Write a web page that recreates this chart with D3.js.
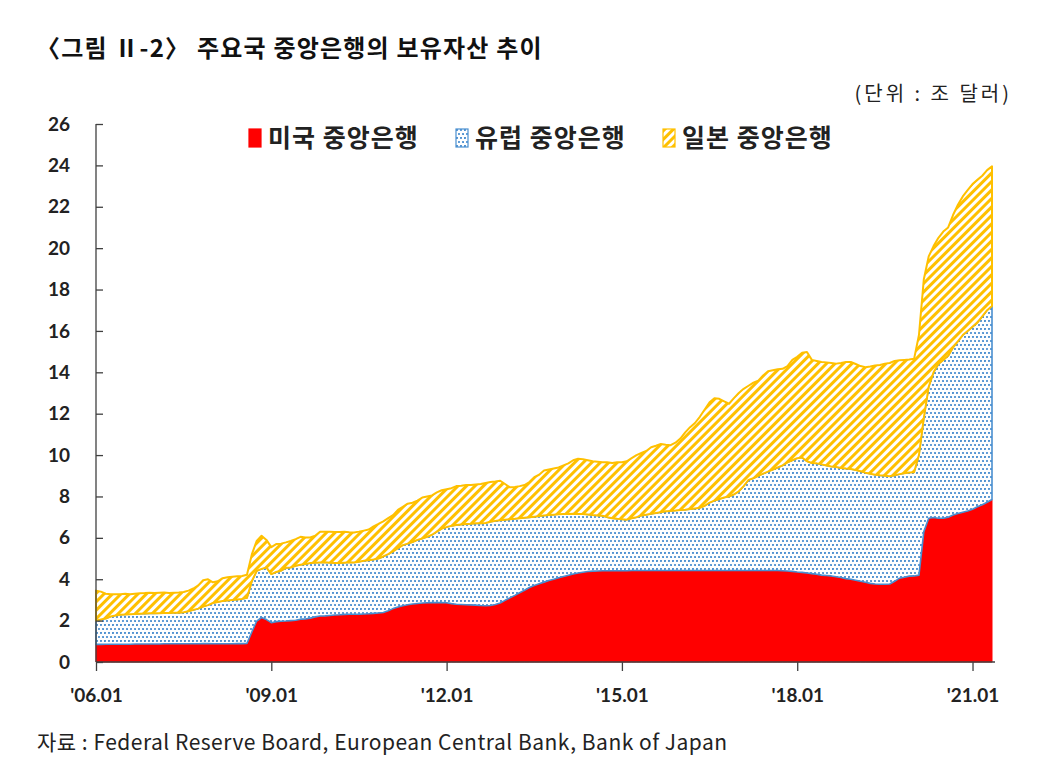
<!DOCTYPE html>
<html>
<head>
<meta charset="utf-8">
<script src="https://cdn.jsdelivr.net/npm/d3@7"></script>
<style>
    body { margin: 0; background: #fff; }
    svg { display: block; }
    .axis path, .axis line { stroke: #404040; stroke-width: 1.3px; }
    .axis text { font-family: Lato, "Noto Sans", sans-serif; font-weight: 700; font-size: 19px; fill: #222; }
</style>
</head>
<body>
<div id="chart"></div>
<script>
    'use strict';

    // monthly values, '06.01 ~ '21.05 (trillion dollars)
    var startYear = 2006;
    var seriesNames = ['미국 중앙은행', '유럽 중앙은행', '일본 중앙은행'];
    var xTickLabels = ["'06.01", "'09.01", "'12.01", "'15.01", "'18.01", "'21.01"];
    var yTicks = [0, 2, 4, 6, 8, 10, 12, 14, 16, 18, 20, 22, 24, 26];

    var usValues = [
        0.85, 0.85, 0.86, 0.86, 0.86, 0.86, 0.86, 0.86, 0.87, 0.87, 0.87, 0.87,
        0.87, 0.87, 0.88, 0.88, 0.88, 0.88, 0.88, 0.88, 0.88, 0.88, 0.89, 0.89,
        0.88, 0.88, 0.88, 0.88, 0.88, 0.89, 0.89, 0.90, 1.45, 1.98, 2.15, 2.05,
        1.90, 1.95, 1.97, 1.98, 2.00, 2.02, 2.07, 2.08, 2.12, 2.18, 2.22, 2.23,
        2.25, 2.27, 2.28, 2.30, 2.31, 2.31, 2.31, 2.32, 2.33, 2.35, 2.37, 2.39,
        2.48, 2.58, 2.66, 2.72, 2.77, 2.80, 2.83, 2.85, 2.86, 2.87, 2.87, 2.87,
        2.86, 2.82, 2.79, 2.78, 2.77, 2.76, 2.75, 2.73, 2.72, 2.73, 2.78, 2.85,
        2.98, 3.10, 3.22, 3.35, 3.47, 3.60, 3.70, 3.78, 3.86, 3.94, 4.00, 4.07,
        4.13, 4.19, 4.25, 4.30, 4.34, 4.37, 4.39, 4.40, 4.41, 4.41, 4.41, 4.41,
        4.41, 4.41, 4.42, 4.42, 4.42, 4.42, 4.42, 4.42, 4.42, 4.42, 4.42, 4.42,
        4.42, 4.42, 4.42, 4.42, 4.42, 4.42, 4.42, 4.42, 4.42, 4.42, 4.42, 4.42,
        4.42, 4.42, 4.42, 4.42, 4.42, 4.42, 4.42, 4.42, 4.42, 4.41, 4.40, 4.38,
        4.35, 4.33, 4.30, 4.27, 4.24, 4.20, 4.18, 4.16, 4.12, 4.08, 4.03, 4.00,
        3.95, 3.90, 3.85, 3.80, 3.77, 3.76, 3.76, 3.77, 3.90, 4.05, 4.10, 4.15,
        4.16, 4.20, 6.30, 6.95, 6.98, 6.95, 6.95, 7.00, 7.10, 7.18, 7.24, 7.30,
        7.38, 7.50, 7.60, 7.72, 7.85
    ];

    var euValues = [
        1.15, 1.20, 1.24, 1.34, 1.39, 1.42, 1.44, 1.45, 1.45, 1.46, 1.47, 1.48,
        1.48, 1.49, 1.49, 1.49, 1.50, 1.50, 1.52, 1.57, 1.64, 1.70, 1.79, 1.86,
        1.97, 2.02, 2.07, 2.09, 2.12, 2.13, 2.16, 2.20, 2.45, 2.42, 2.35, 2.52,
        2.35, 2.40, 2.44, 2.57, 2.57, 2.63, 2.63, 2.65, 2.66, 2.62, 2.59, 2.59,
        2.55, 2.51, 2.50, 2.50, 2.51, 2.50, 2.54, 2.57, 2.59, 2.60, 2.63, 2.71,
        2.73, 2.77, 2.84, 2.93, 2.95, 3.00, 3.07, 3.12, 3.19, 3.28, 3.43, 3.58,
        3.66, 3.76, 3.83, 3.87, 3.90, 3.92, 3.95, 3.97, 4.00, 4.05, 4.04, 4.00,
        3.90, 3.80, 3.70, 3.60, 3.50, 3.39, 3.32, 3.27, 3.22, 3.16, 3.12, 3.07,
        3.02, 2.96, 2.91, 2.85, 2.81, 2.76, 2.71, 2.68, 2.66, 2.59, 2.54, 2.51,
        2.49, 2.47, 2.53, 2.58, 2.66, 2.70, 2.74, 2.78, 2.82, 2.86, 2.88, 2.90,
        2.93, 2.94, 2.97, 3.00, 3.03, 3.13, 3.28, 3.38, 3.46, 3.53, 3.58, 3.68,
        3.83, 4.08, 4.38, 4.46, 4.58, 4.68, 4.78, 4.88, 4.98, 5.09, 5.25, 5.37,
        5.50, 5.55, 5.40, 5.35, 5.36, 5.35, 5.32, 5.29, 5.30, 5.30, 5.32, 5.33,
        5.33, 5.32, 5.30, 5.30, 5.28, 5.26, 5.24, 5.21, 5.12, 5.03, 5.02, 5.01,
        5.01, 5.80, 5.50, 6.35, 7.02, 7.45, 7.65, 7.80, 8.10, 8.32, 8.56, 8.70,
        8.82, 8.90, 9.10, 9.28, 9.35
    ];

    var jpValues = [
        1.45, 1.35, 1.20, 1.08, 1.02, 1.00, 1.00, 0.97, 0.98, 0.99, 0.99, 1.00,
        0.98, 0.99, 0.99, 0.97, 0.97, 0.98, 0.98, 1.00, 1.03, 1.12, 1.27, 1.25,
        1.00, 1.00, 1.10, 1.13, 1.12, 1.12, 1.11, 1.12, 1.30, 1.45, 1.60, 1.33,
        1.30, 1.35, 1.31, 1.23, 1.28, 1.29, 1.35, 1.29, 1.24, 1.30, 1.49, 1.48,
        1.50, 1.50, 1.50, 1.50, 1.45, 1.45, 1.45, 1.46, 1.48, 1.60, 1.67, 1.70,
        1.74, 1.75, 1.85, 1.85, 1.93, 1.90, 1.90, 1.98, 1.95, 1.90, 1.90, 1.85,
        1.83, 1.82, 1.88, 1.87, 1.88, 1.87, 1.88, 1.90, 1.93, 1.92, 1.90, 1.91,
        1.72, 1.54, 1.54, 1.55, 1.58, 1.71, 1.91, 2.00, 2.17, 2.20, 2.23, 2.26,
        2.35, 2.45, 2.59, 2.67, 2.65, 2.62, 2.60, 2.60, 2.58, 2.65, 2.67, 2.73,
        2.75, 2.82, 2.90, 3.00, 3.02, 3.08, 3.22, 3.25, 3.30, 3.22, 3.18, 3.28,
        3.45, 3.74, 3.96, 4.13, 4.40, 4.65, 4.85, 4.95, 4.84, 4.65, 4.48, 4.65,
        4.75, 4.70, 4.55, 4.62, 4.60, 4.75, 4.85, 4.80, 4.75, 4.67, 4.65, 4.85,
        4.90, 5.07, 5.28, 4.98, 4.95, 4.95, 4.98, 5.00, 5.00, 5.07, 5.15, 5.17,
        5.12, 5.08, 5.10, 5.18, 5.28, 5.33, 5.42, 5.47, 5.53, 5.50, 5.48, 5.46,
        5.48, 5.80, 6.70, 6.30, 6.10, 6.10, 6.20, 6.20, 6.40, 6.60, 6.70, 6.80,
        6.90, 6.90, 6.80, 6.77, 6.75
    ];

    var width = 1045, height = 780;
    var plot = {left: 96, right: 992, top: 124, bottom: 662};

    var svg = d3.select('#chart').append('svg')
        .attr('width', width)
        .attr('height', height);

    svg.append('rect').attr('width', width).attr('height', height).attr('fill', '#fff');

    var defs = svg.append('defs');

    var dots = defs.append('pattern')
        .attr('id', 'dots')
        .attr('patternUnits', 'userSpaceOnUse')
        .attr('width', 8).attr('height', 8);
    dots.append('rect').attr('width', 8).attr('height', 8).attr('fill', '#fff');
    [[1, 1], [5, 1], [3, 5], [7, 5]].forEach(function (p) {
        dots.append('circle').attr('cx', p[0]).attr('cy', p[1]).attr('r', 1.05).attr('fill', '#3d86cc');
    });

    var hatch = defs.append('pattern')
        .attr('id', 'hatch')
        .attr('patternUnits', 'userSpaceOnUse')
        .attr('width', 6).attr('height', 6)
        .attr('patternTransform', 'rotate(45)');
    hatch.append('rect').attr('width', 6).attr('height', 6).attr('fill', '#fff');
    hatch.append('rect').attr('width', 3).attr('height', 6).attr('fill', '#ffc000');

    var rows = usValues.map(function (v, i) {
        return {i: i, us: v, eu: euValues[i], jp: jpValues[i]};
    });

    var x = d3.scaleLinear()
        .domain([0, rows.length - 1])
        .range([plot.left, plot.right]);

    var y = d3.scaleLinear()
        .domain([0, 26])
        .range([plot.bottom, plot.top]);

    var stack = d3.stack().keys(['us', 'eu', 'jp']);
    var layers = stack(rows);

    var styles = [
        {fill: '#ff0000', stroke: '#ff0000', width: 1},
        {fill: 'url(#dots)', stroke: '#4a8fd0', width: 1.6},
        {fill: 'url(#hatch)', stroke: '#ffc000', width: 2}
    ];

    var area = d3.area()
        .x(function (d) { return x(d.data.i); })
        .y0(function (d) { return y(d[0]); })
        .y1(function (d) { return y(d[1]); });

    svg.append('g').selectAll('path')
        .data(layers)
        .enter().append('path')
        .attr('d', area)
        .attr('fill', function (d, k) { return styles[k].fill; })
        .attr('stroke', function (d, k) { return styles[k].stroke; })
        .attr('stroke-width', function (d, k) { return styles[k].width; })
        .attr('stroke-linejoin', 'round');

    // axes
    svg.append('g')
        .attr('class', 'axis')
        .attr('transform', 'translate(' + plot.left + ',0)')
        .call(d3.axisLeft(y).tickValues(yTicks).tickSizeInner(-7).tickSizeOuter(0).tickPadding(26))
        .call(function (g) { g.select('.domain').attr('d', 'M0,' + plot.top + 'V' + plot.bottom); });

    svg.append('g')
        .attr('class', 'axis')
        .attr('transform', 'translate(0,' + plot.bottom + ')')
        .call(d3.axisBottom(x)
            .tickValues(xTickLabels.map(function (d, k) { return k * 36; }))
            .tickFormat(function (d, k) { return xTickLabels[k]; })
            .tickSizeInner(9).tickSizeOuter(0).tickPadding(18))
        .call(function (g) { g.select('.domain').attr('d', 'M' + plot.left + ',0H' + (plot.right + 3)); });

    // legend
    var legendX = [249, 456, 663];
    var swatches = ['#ff0000', 'url(#dots)', 'url(#hatch)'];
    var swatchStroke = ['#ff0000', '#4a8fd0', '#ffc000'];
    var legend = svg.append('g').selectAll('g')
        .data(seriesNames)
        .enter().append('g')
        .attr('transform', function (d, k) { return 'translate(' + legendX[k] + ',129)'; });
    legend.append('rect')
        .attr('width', 12).attr('height', 18)
        .attr('fill', function (d, k) { return swatches[k]; })
        .attr('stroke', function (d, k) { return swatchStroke[k]; })
        .attr('stroke-width', 1.2);
    legend.append('text')
        .attr('x', 19).attr('y', 18)
        .style('font-family', '"Noto Sans CJK KR", sans-serif')
        .style('font-weight', 700)
        .style('font-size', '25px')
        .style('letter-spacing', '1px')
        .attr('fill', '#222')
        .text(function (d) { return d; });

    // titles
    svg.append('text')
        .attr('x', 36).attr('y', 57)
        .style('font-family', '"Noto Sans CJK KR", sans-serif')
        .style('font-weight', 700)
        .style('font-size', '24px')
        .style('letter-spacing', '1.2px')
        .attr('fill', '#111')
        .text('〈그림  Ⅱ-2〉 주요국 중앙은행의 보유자산 추이');

    svg.append('text')
        .attr('x', 1012).attr('y', 101)
        .attr('text-anchor', 'end')
        .style('font-family', '"Noto Sans CJK KR", sans-serif')
        .style('font-size', '20px')
        .style('letter-spacing', '3px')
        .attr('fill', '#222')
        .text('(단위  :  조 달러)');

    svg.append('text')
        .attr('x', 37).attr('y', 750)
        .style('font-family', '"Noto Sans CJK KR", sans-serif')
        .style('font-size', '21px')
        .style('letter-spacing', '0.5px')
        .attr('fill', '#222')
        .text('자료 : Federal Reserve Board, European Central Bank, Bank of Japan');
</script>
</body>
</html>
